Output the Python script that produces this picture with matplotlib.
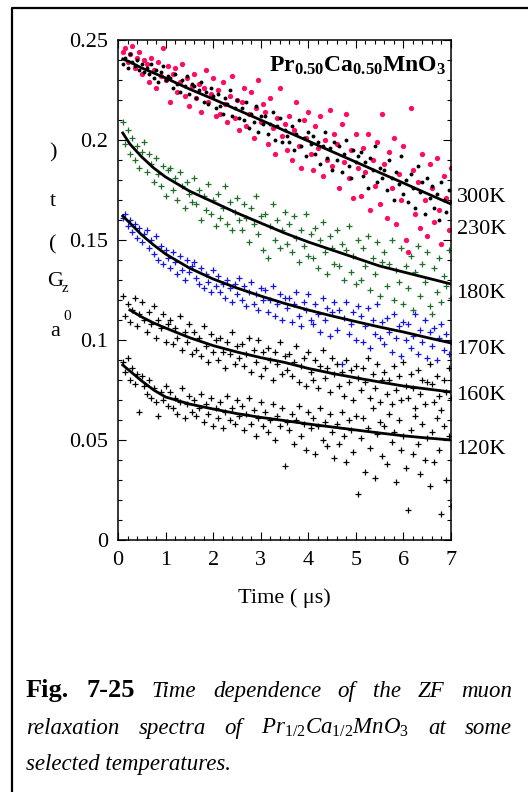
import numpy as np
import matplotlib
matplotlib.use('Agg')
import matplotlib.pyplot as plt
from matplotlib.lines import Line2D
from matplotlib.ticker import MultipleLocator, FuncFormatter

plt.rcParams['font.family'] = ['Liberation Serif', 'DejaVu Serif']
plt.rcParams['mathtext.fontset'] = 'custom'
plt.rcParams['mathtext.rm'] = 'Liberation Serif'
plt.rcParams['mathtext.it'] = 'Liberation Serif:italic'
plt.rcParams['mathtext.bf'] = 'Liberation Serif:bold'

# ---- data (asymmetry vs time in us) ----
# scatter points, one value per time bin from 0.1 to 7.0 us
a_300K = [0.244, 0.246, 0.239, 0.243, 0.247, 0.236, 0.241, 0.244, 0.233, 0.240,
          0.238, 0.229, 0.241, 0.235, 0.226, 0.239, 0.232, 0.246, 0.230, 0.237,
          0.219, 0.233, 0.236, 0.224, 0.229, 0.238, 0.222, 0.231, 0.217, 0.227,
          0.233, 0.221, 0.228, 0.214, 0.226, 0.235, 0.219, 0.223, 0.231, 0.212,
          0.225, 0.213, 0.229, 0.218, 0.209, 0.222, 0.232, 0.211, 0.220, 0.205,
          0.219, 0.226, 0.207, 0.213, 0.224, 0.201, 0.216, 0.230, 0.209, 0.218,
          0.214, 0.198, 0.221, 0.206, 0.193, 0.211, 0.226, 0.202, 0.208, 0.195,
          0.212, 0.190, 0.205, 0.219, 0.197, 0.186, 0.210, 0.201, 0.214, 0.193,
          0.185, 0.207, 0.196, 0.212, 0.182, 0.200, 0.190, 0.215, 0.187, 0.203,
          0.198, 0.176, 0.208, 0.189, 0.213, 0.181, 0.195, 0.171, 0.203, 0.186,
          0.172, 0.196, 0.184, 0.203, 0.165, 0.190, 0.177, 0.199, 0.168, 0.213,
          0.188, 0.161, 0.194, 0.176, 0.201, 0.158, 0.183, 0.170, 0.197, 0.150,
          0.144, 0.216, 0.185, 0.163, 0.179, 0.156, 0.193, 0.170, 0.152, 0.188,
          0.176, 0.159, 0.191, 0.165, 0.148, 0.182, 0.171, 0.155, 0.186]
a_230K = [0.238, 0.241, 0.236, 0.243, 0.239, 0.237, 0.240, 0.235, 0.238, 0.234,
          0.236, 0.233, 0.238, 0.231, 0.235, 0.229, 0.234, 0.237, 0.230, 0.232,
          0.231, 0.226, 0.233, 0.228, 0.224, 0.230, 0.227, 0.232, 0.223, 0.228,
          0.227, 0.221, 0.225, 0.229, 0.219, 0.224, 0.218, 0.226, 0.222, 0.216,
          0.223, 0.217, 0.213, 0.221, 0.218, 0.225, 0.212, 0.216, 0.220, 0.211,
          0.216, 0.210, 0.219, 0.206, 0.213, 0.209, 0.217, 0.204, 0.212, 0.208,
          0.212, 0.203, 0.208, 0.214, 0.200, 0.207, 0.211, 0.199, 0.205, 0.202,
          0.199, 0.207, 0.195, 0.203, 0.210, 0.197, 0.201, 0.192, 0.204, 0.198,
          0.202, 0.193, 0.199, 0.188, 0.197, 0.204, 0.191, 0.196, 0.185, 0.199,
          0.190, 0.197, 0.184, 0.193, 0.200, 0.187, 0.181, 0.195, 0.189, 0.192,
          0.194, 0.182, 0.189, 0.176, 0.191, 0.185, 0.197, 0.179, 0.186, 0.181,
          0.185, 0.175, 0.190, 0.181, 0.170, 0.184, 0.178, 0.192, 0.173, 0.180,
          0.169, 0.183, 0.176, 0.166, 0.187, 0.174, 0.179, 0.163, 0.181, 0.171,
          0.177, 0.166, 0.173, 0.160, 0.179, 0.170, 0.164, 0.175, 0.169]
a_180K = [0.209, 0.198, 0.205, 0.193, 0.201, 0.190, 0.197, 0.186, 0.194, 0.199,
          0.184, 0.193, 0.188, 0.179, 0.191, 0.183, 0.177, 0.187, 0.172, 0.185,
          0.186, 0.175, 0.181, 0.170, 0.184, 0.177, 0.166, 0.179, 0.173, 0.169,
          0.181, 0.168, 0.175, 0.160, 0.172, 0.165, 0.178, 0.163, 0.170, 0.157,
          0.173, 0.161, 0.166, 0.177, 0.158, 0.169, 0.155, 0.164, 0.171, 0.160,
          0.155, 0.168, 0.161, 0.149, 0.166, 0.158, 0.172, 0.153, 0.162, 0.145,
          0.163, 0.141, 0.157, 0.168, 0.150, 0.160, 0.146, 0.155, 0.164, 0.148,
          0.158, 0.144, 0.162, 0.151, 0.139, 0.155, 0.147, 0.163, 0.142, 0.153,
          0.141, 0.156, 0.136, 0.150, 0.159, 0.144, 0.133, 0.152, 0.146, 0.138,
          0.155, 0.137, 0.148, 0.130, 0.145, 0.157, 0.134, 0.142, 0.128, 0.150,
          0.130, 0.146, 0.137, 0.152, 0.125, 0.141, 0.133, 0.149, 0.122, 0.139,
          0.144, 0.127, 0.138, 0.150, 0.120, 0.135, 0.129, 0.146, 0.118, 0.137,
          0.126, 0.142, 0.115, 0.134, 0.147, 0.122, 0.138, 0.129, 0.144, 0.117,
          0.113, 0.136, 0.124, 0.141, 0.119, 0.132, 0.127, 0.145, 0.121]
a_170K = [0.161, 0.163, 0.157, 0.160, 0.154, 0.158, 0.151, 0.156, 0.149, 0.153,
          0.155, 0.146, 0.150, 0.143, 0.152, 0.140, 0.147, 0.138, 0.145, 0.141,
          0.136, 0.144, 0.139, 0.133, 0.142, 0.135, 0.130, 0.140, 0.134, 0.137,
          0.139, 0.131, 0.128, 0.136, 0.126, 0.133, 0.129, 0.124, 0.135, 0.127,
          0.132, 0.124, 0.128, 0.121, 0.130, 0.126, 0.119, 0.128, 0.123, 0.131,
          0.120, 0.127, 0.117, 0.124, 0.129, 0.118, 0.123, 0.115, 0.126, 0.120,
          0.125, 0.114, 0.120, 0.127, 0.112, 0.118, 0.123, 0.110, 0.121, 0.116,
          0.121, 0.109, 0.118, 0.124, 0.112, 0.107, 0.119, 0.115, 0.123, 0.110,
          0.108, 0.118, 0.113, 0.104, 0.121, 0.110, 0.116, 0.102, 0.114, 0.119,
          0.105, 0.115, 0.088, 0.111, 0.119, 0.103, 0.108, 0.114, 0.100, 0.117,
          0.112, 0.099, 0.107, 0.116, 0.096, 0.110, 0.103, 0.118, 0.101, 0.109,
          0.098, 0.111, 0.104, 0.094, 0.113, 0.101, 0.107, 0.092, 0.109, 0.100,
          0.108, 0.096, 0.102, 0.113, 0.093, 0.105, 0.099, 0.110, 0.091, 0.104,
          0.097, 0.106, 0.090, 0.101, 0.108, 0.095, 0.103, 0.093, 0.099]
a_160K = [0.122, 0.112, 0.118, 0.109, 0.115, 0.121, 0.107, 0.113, 0.119, 0.110,
          0.104, 0.114, 0.108, 0.117, 0.101, 0.110, 0.106, 0.113, 0.099, 0.108,
          0.110, 0.098, 0.106, 0.101, 0.112, 0.095, 0.104, 0.099, 0.108, 0.093,
          0.104, 0.095, 0.101, 0.092, 0.107, 0.097, 0.089, 0.103, 0.094, 0.100,
          0.090, 0.101, 0.094, 0.086, 0.099, 0.093, 0.104, 0.088, 0.097, 0.091,
          0.098, 0.087, 0.093, 0.101, 0.084, 0.095, 0.089, 0.100, 0.082, 0.094,
          0.086, 0.096, 0.090, 0.080, 0.094, 0.088, 0.099, 0.083, 0.092, 0.085,
          0.093, 0.082, 0.089, 0.097, 0.079, 0.087, 0.091, 0.077, 0.094, 0.084,
          0.080, 0.090, 0.076, 0.087, 0.095, 0.081, 0.086, 0.074, 0.091, 0.083,
          0.088, 0.077, 0.084, 0.072, 0.090, 0.079, 0.085, 0.070, 0.087, 0.081,
          0.075, 0.086, 0.079, 0.091, 0.071, 0.083, 0.076, 0.088, 0.069, 0.080,
          0.084, 0.073, 0.080, 0.068, 0.087, 0.075, 0.082, 0.070, 0.089, 0.077,
          0.071, 0.083, 0.076, 0.066, 0.085, 0.073, 0.080, 0.068, 0.079, 0.088,
          0.078, 0.069, 0.082, 0.072, 0.065, 0.080, 0.074, 0.086, 0.071]
a_120K = [0.089, 0.084, 0.091, 0.080, 0.086, 0.078, 0.083, 0.064, 0.082, 0.077,
          0.073, 0.080, 0.071, 0.076, 0.069, 0.062, 0.074, 0.070, 0.077, 0.067,
          0.074, 0.066, 0.071, 0.063, 0.069, 0.076, 0.061, 0.068, 0.072, 0.064,
          0.070, 0.062, 0.066, 0.073, 0.059, 0.068, 0.063, 0.071, 0.057, 0.066,
          0.061, 0.069, 0.056, 0.064, 0.072, 0.060, 0.066, 0.058, 0.070, 0.062,
          0.067, 0.055, 0.063, 0.071, 0.058, 0.065, 0.052, 0.061, 0.069, 0.057,
          0.064, 0.054, 0.060, 0.068, 0.050, 0.062, 0.057, 0.066, 0.037, 0.059,
          0.055, 0.063, 0.048, 0.060, 0.067, 0.052, 0.058, 0.045, 0.064, 0.056,
          0.061, 0.043, 0.057, 0.066, 0.050, 0.059, 0.047, 0.063, 0.054, 0.041,
          0.058, 0.048, 0.064, 0.052, 0.039, 0.060, 0.055, 0.044, 0.062, 0.023,
          0.051, 0.061, 0.034, 0.056, 0.046, 0.066, 0.031, 0.053, 0.059, 0.042,
          0.057, 0.038, 0.063, 0.049, 0.054, 0.029, 0.060, 0.045, 0.052, 0.036,
          0.015, 0.055, 0.043, 0.062, 0.048, 0.033, 0.058, 0.040, 0.051, 0.027,
          0.054, 0.039, 0.061, 0.045, 0.013, 0.057, 0.030, 0.052, 0.017]

# fitted curves
fit_t = [0.1, 0.25, 0.5, 0.75, 1.0, 1.5, 2.0, 2.5, 3.0, 3.5, 4.0, 4.5, 5.0, 5.5, 6.0, 6.5, 7.0]
fit_top = [0.2405, 0.239, 0.236, 0.2335, 0.231, 0.2255, 0.2205, 0.2152, 0.210, 0.2047,
           0.1995, 0.1942, 0.189, 0.1837, 0.1785, 0.1732, 0.168]
fit_180K = [0.2035, 0.198, 0.1915, 0.186, 0.1815, 0.1745, 0.169, 0.1635, 0.1585, 0.1535,
            0.149, 0.145, 0.141, 0.137, 0.134, 0.131, 0.128]
fit_170K = [0.162, 0.1585, 0.1525, 0.1475, 0.143, 0.136, 0.1305, 0.126, 0.122, 0.1183,
            0.115, 0.112, 0.1092, 0.1065, 0.104, 0.1012, 0.0985]
fit_t_160K = [0.25, 0.5, 0.75, 1.0, 1.5, 2.0, 2.5, 3.0, 3.5, 4.0, 4.5, 5.0, 5.5, 6.0, 6.5, 7.0]
fit_160K = [0.115, 0.1115, 0.1085, 0.106, 0.1012, 0.0972, 0.094, 0.0912, 0.0888, 0.0858,
            0.0833, 0.0811, 0.079, 0.077, 0.0755, 0.074]
fit_120K = [0.0875, 0.0845, 0.0795, 0.075, 0.0715, 0.068, 0.0655, 0.0632, 0.0613, 0.0597,
            0.058, 0.0565, 0.055, 0.0535, 0.0521, 0.051, 0.050]

temp_labels = ['300K', '230K', '180K', '170K', '160K', '120K']
temp_label_y = [0.171, 0.155, 0.1235, 0.095, 0.0725, 0.045]

W, H = 528, 792
fig = plt.figure(figsize=(W / 100, H / 100), dpi=100)

# page frame (only left and top edges fall inside the crop)
fig.add_artist(Line2D([12 / W, 12 / W, 1.0], [0.0, 1 - 7.5 / H, 1 - 7.5 / H],
                      transform=fig.transFigure, color='black', lw=1.6))

ax = fig.add_axes([118 / W, 1 - 540 / H, 333 / W, 500 / H])

def tbins(vals):
    return np.linspace(0.1, 7.0, len(vals))

ax.plot(tbins(a_300K), a_300K, 'o', color='#ff0a64', ms=3.8, mec='none', zorder=2)
ax.plot(tbins(a_230K), a_230K, 'o', color='black', ms=2.8, mec='none', zorder=3)
ax.plot(tbins(a_180K), a_180K, '+', color='#1f6e2a', ms=4, mew=0.9, zorder=2)
ax.plot(tbins(a_170K), a_170K, '+', color='#1515e6', ms=4, mew=0.9, zorder=2)
ax.plot(tbins(a_160K), a_160K, '+', color='black', ms=4, mew=0.9, zorder=2)
ax.plot(tbins(a_120K), a_120K, '+', color='black', ms=4, mew=0.9, zorder=2)

for ft, fv in [(fit_t, fit_top), (fit_t, fit_180K), (fit_t, fit_170K),
               (fit_t_160K, fit_160K), (fit_t, fit_120K)]:
    ax.plot(ft, fv, '-', color='black', lw=2.0, zorder=5)

ax.set_xlim(0, 7)
ax.set_ylim(0, 0.25)
ax.xaxis.set_major_locator(MultipleLocator(1))
ax.xaxis.set_minor_locator(MultipleLocator(0.2))
ax.yaxis.set_major_locator(MultipleLocator(0.05))
ax.yaxis.set_minor_locator(MultipleLocator(0.01))
ax.xaxis.set_major_formatter(FuncFormatter(lambda v, p: '%d' % v))
ax.yaxis.set_major_formatter(FuncFormatter(
    lambda v, p: '0' if v == 0 else ('%.2f' % v).rstrip('0')))
ax.tick_params(which='both', direction='in', top=True, right=True, width=0.8)
ax.tick_params(which='major', length=5.5, labelsize=16)
ax.tick_params(which='minor', length=3)
ax.tick_params(axis='x', pad=8)
ax.tick_params(axis='y', pad=7)
for s in ax.spines.values():
    s.set_linewidth(1.1)

ax.set_xlabel('Time ( \u03bcs)', fontsize=16, labelpad=13)

for lab, y in zip(temp_labels, temp_label_y):
    ax.annotate(lab, xy=(1.0, y), xycoords=('axes fraction', 'data'),
                xytext=(4, 0), textcoords='offset points', ha='left', va='center',
                fontsize=16, annotation_clip=False)

ax.text(0.985, 0.936, r'$\mathbf{Pr_{0.50}Ca_{0.50}MnO_{3}}$', transform=ax.transAxes,
        ha='right', va='baseline', fontsize=17)

# y label written as stacked upright characters
for ch, x, y, fs in [(')', 53, 153, 16), ('t', 53, 201, 16), ('(', 53, 245, 16),
                     ('G', 55, 282, 16), ('z', 65, 289, 11), ('a', 55, 331, 16),
                     ('0', 67, 316, 11)]:
    fig.text(x / W, 1 - y / H, ch, ha='center', va='center', fontsize=fs)

# caption, justified between the margins
def justify(words, styles, y, x0, x1):
    r = fig.canvas.get_renderer()
    texts = [fig.text(0, 1 - y / H, w, va='baseline', **s) for w, s in zip(words, styles)]
    widths = [t.get_window_extent(r).width for t in texts]
    gap = (x1 - x0 - sum(widths)) / (len(words) - 1)
    x = x0
    for t, w in zip(texts, widths):
        t.set_x(x / W)
        x += w + gap

bold = dict(fontsize=19, fontweight='bold')
ital = dict(fontsize=16.5, style='italic')
line1 = ['Fig.', '7-25', 'Time', 'dependence', 'of', 'the', 'ZF', 'muon']
justify(line1, [bold, bold] + [ital] * 6, 697, 26, 512)
line2 = ['relaxation', 'spectra', 'of', r'$\mathit{Pr_{1/2}Ca_{1/2}MnO_{3}}$', 'at', 'some']
justify(line2, [ital] * 6, 734, 26, 512)
fig.text(26 / W, 1 - 770 / H, 'selected temperatures.', va='baseline', **ital)

fig.savefig('out.png', dpi=100)
